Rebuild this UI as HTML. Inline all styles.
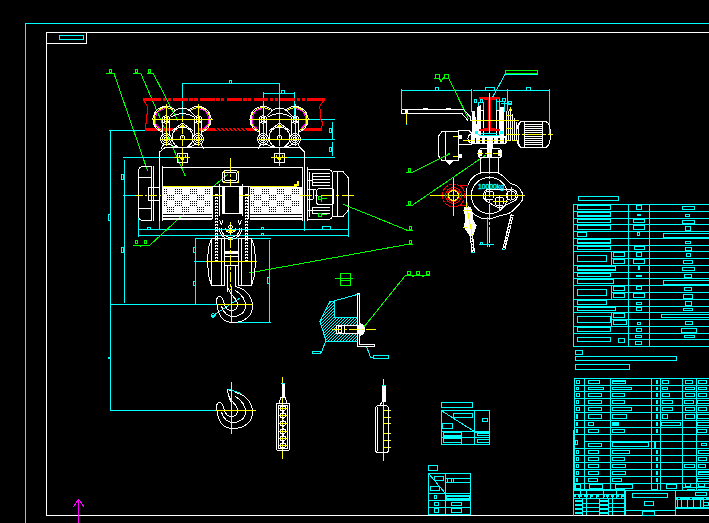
<!DOCTYPE html>
<html><head><meta charset="utf-8"><title>CAD drawing</title>
<style>
html,body{margin:0;padding:0;background:#000;overflow:hidden}
svg{display:block}
text{font-family:"Liberation Sans",sans-serif}
</style></head>
<body>
<svg width="709" height="523" viewBox="0 0 709 523" shape-rendering="crispEdges" fill="none" stroke-width="1">
<rect x="0" y="0" width="709" height="523" fill="#000" stroke="none"/>
<path d="M25.5 23L25.5 523" stroke="#00ffff"/>
<path d="M25 23.5L709 23.5" stroke="#00ffff"/>
<path d="M46.5 32L46.5 516" stroke="#ffffff"/>
<path d="M46 32.5L709 32.5" stroke="#ffffff"/>
<path d="M46 515.5L709 515.5" stroke="#ffffff"/>
<rect x="46.5" y="32.5" width="40" height="11" stroke="#ffffff" fill="none"/>
<rect x="59.5" y="35.5" width="24" height="4" stroke="#00ffff" fill="none"/>
<path d="M78.5 499L78.5 523" stroke="#ff00ff"/>
<path d="M78.5 499L73.5 507" stroke="#ff00ff"/>
<path d="M78.5 499L84 507" stroke="#ff00ff"/>
<rect x="109.5" y="69.5" width="2" height="3" stroke="#00ff00" fill="none"/>
<path d="M106 73.5L114 73.5" stroke="#00ff00"/>
<path d="M114 73.5L147.7 171.2" stroke="#00ff00"/>
<rect x="135.5" y="69.5" width="2" height="3" stroke="#00ff00" fill="none"/>
<path d="M133 73.5L141 73.5" stroke="#00ff00"/>
<path d="M140.8 73.5L185.4 176.4" stroke="#00ff00"/>
<rect x="148.5" y="69.5" width="2" height="3" stroke="#00ff00" fill="none"/>
<path d="M147 73.5L154 73.5" stroke="#00ff00"/>
<path d="M153.3 73.5L178 121" stroke="#00ff00"/>
<path d="M182.5 83L182.5 117" stroke="#00ffff"/>
<path d="M182 83.5L280 83.5" stroke="#00ffff"/>
<path d="M279.5 83L279.5 137" stroke="#00ffff"/>
<rect x="229.5" y="80.5" width="2" height="3" stroke="#00ffff" fill="none"/>
<path d="M263 93.5L295 93.5" stroke="#00ffff"/>
<path d="M263.5 92L263.5 120" stroke="#00ffff"/>
<path d="M294.5 92L294.5 120" stroke="#00ffff"/>
<rect x="281.5" y="90.5" width="3" height="3" stroke="#00ffff" fill="none"/>
<path d="M109 130.5L146 130.5" stroke="#00ffff"/>
<path d="M110.5 130L110.5 411" stroke="#00ffff"/>
<path d="M123 157.5L180 157.5" stroke="#00ffff"/>
<path d="M124.5 160L124.5 303" stroke="#00ffff"/>
<path d="M123 195.5L136 195.5" stroke="#00ffff"/>
<rect x="121.5" y="174.5" width="2" height="5" stroke="#00ffff" fill="none"/>
<rect x="108.5" y="214.5" width="2" height="6" stroke="#00ffff" fill="none"/>
<rect x="121.5" y="247.5" width="2" height="5" stroke="#00ffff" fill="none"/>
<path d="M286 157.5L335 157.5" stroke="#00ffff"/>
<path d="M332.5 142L332.5 156" stroke="#00ffff"/>
<rect x="329.5" y="147.5" width="2" height="4" stroke="#00ffff" fill="none"/>
<path d="M295 119.5L335 119.5" stroke="#00ffff"/>
<path d="M297 139.5L335 139.5" stroke="#00ffff"/>
<path d="M332.5 122L332.5 139" stroke="#00ffff"/>
<rect x="329.5" y="128.5" width="2" height="4" stroke="#00ffff" fill="none"/>
<path d="M138.5 211L138.5 237" stroke="#00ffff"/>
<path d="M138 229.5L349 229.5" stroke="#00ffff"/>
<path d="M138 235.5L349 235.5" stroke="#00ffff"/>
<path d="M348.5 195L348.5 237" stroke="#00ffff"/>
<path d="M159.5 220L159.5 230" stroke="#00ffff"/>
<path d="M304.5 220L304.5 231" stroke="#00ffff"/>
<rect x="147.5" y="227.5" width="3" height="2" stroke="#00ffff" fill="none"/>
<rect x="261.5" y="227.5" width="2" height="2" stroke="#00ffff" fill="none"/>
<rect x="322.5" y="226.5" width="8" height="3" stroke="#00ffff" fill="none"/>
<rect x="261.5" y="233.5" width="2" height="2" stroke="#00ffff" fill="none"/>
<path d="M195 238.5L271 238.5" stroke="#00ffff"/>
<path d="M195.5 238L195.5 304" stroke="#00ffff"/>
<path d="M269.5 240L269.5 322" stroke="#00ffff"/>
<path d="M194 261.5L207 261.5" stroke="#00ffff"/>
<rect x="193.5" y="247.5" width="2" height="5" stroke="#00ffff" fill="none"/>
<rect x="193.5" y="281.5" width="2" height="4" stroke="#00ffff" fill="none"/>
<rect x="267.5" y="277.5" width="2" height="6" stroke="#00ffff" fill="none"/>
<path d="M110 304.5L217 304.5" stroke="#00ffff"/>
<path d="M231 322.5L271 322.5" stroke="#00ffff"/>
<path d="M210.5 317.4L239.5 298.3" stroke="#00ffff"/>
<path d="M211 315L213 313L215 315.5L213 317.5Z" stroke="#00ffff" fill="none"/>
<rect x="108" y="357" width="2" height="2" fill="#00ffff" stroke="none"/>
<path d="M110 410.5L215 410.5" stroke="#00ffff"/>
<rect x="135.5" y="240.5" width="2" height="3" stroke="#00ff00" fill="none"/>
<rect x="144.5" y="240.5" width="2" height="3" stroke="#00ff00" fill="none"/>
<path d="M133 245.5L150 245.5" stroke="#00ff00"/>
<path d="M150 245L186 212" stroke="#00ff00"/>
<path d="M140 245L141 247" stroke="#00ff00"/>
<path d="M200 196L214 186" stroke="#00ff00"/>
<path d="M214 186L228 174" stroke="#00ff00"/>
<rect x="143" y="98" width="18.2" height="3" fill="#ff0000" stroke="none"/>
<rect x="162.6" y="98" width="3.5" height="3" fill="#ff0000" stroke="none"/>
<rect x="167.5" y="98" width="3.2" height="3" fill="#ff0000" stroke="none"/>
<rect x="173.1" y="98" width="14.9" height="3" fill="#ff0000" stroke="none"/>
<rect x="189.4" y="98" width="3.5" height="3" fill="#ff0000" stroke="none"/>
<rect x="194.3" y="98" width="3.2" height="3" fill="#ff0000" stroke="none"/>
<rect x="199.9" y="98" width="14.9" height="3" fill="#ff0000" stroke="none"/>
<rect x="216.2" y="98" width="3.5" height="3" fill="#ff0000" stroke="none"/>
<rect x="221.1" y="98" width="3.2" height="3" fill="#ff0000" stroke="none"/>
<rect x="226.7" y="98" width="14.9" height="3" fill="#ff0000" stroke="none"/>
<rect x="243" y="98" width="3.5" height="3" fill="#ff0000" stroke="none"/>
<rect x="247.9" y="98" width="3.2" height="3" fill="#ff0000" stroke="none"/>
<rect x="253.5" y="98" width="14.9" height="3" fill="#ff0000" stroke="none"/>
<rect x="269.8" y="98" width="3.5" height="3" fill="#ff0000" stroke="none"/>
<rect x="274.7" y="98" width="3.2" height="3" fill="#ff0000" stroke="none"/>
<rect x="280.3" y="98" width="14.9" height="3" fill="#ff0000" stroke="none"/>
<rect x="296.6" y="98" width="3.5" height="3" fill="#ff0000" stroke="none"/>
<rect x="301.5" y="98" width="3.2" height="3" fill="#ff0000" stroke="none"/>
<rect x="307.1" y="98" width="14.9" height="3" fill="#ff0000" stroke="none"/>
<rect x="323.4" y="98" width="1.6" height="3" fill="#ff0000" stroke="none"/>
<rect x="145" y="128" width="177.2" height="3" fill="#ff0000" stroke="none"/>
<path d="M215 128L219 131" stroke="#000"/>
<path d="M219 128L223 131" stroke="#000"/>
<path d="M223 128L227 131" stroke="#000"/>
<path d="M227 128L231 131" stroke="#000"/>
<path d="M231 128L235 131" stroke="#000"/>
<path d="M235 128L239 131" stroke="#000"/>
<path d="M239 128L243 131" stroke="#000"/>
<path d="M243 128L247 131" stroke="#000"/>
<rect x="307" y="98" width="18" height="3" fill="#ff0000" stroke="none"/>
<rect x="176.8" y="128" width="21.9" height="3" fill="#000" stroke="none"/>
<rect x="257" y="128" width="43.8" height="3" fill="#000" stroke="none"/>
<path d="M144 100.5L147.5 107L147.5 114L146.3 114.5L146.3 121L145.5 128" stroke="#ff0000" fill="none"/>
<path d="M324 100.5L320.6 104.6L319.5 108L320.6 110L320.6 119.8L322.5 122.3L322.5 124.8L321.5 128" stroke="#ff0000" fill="none"/>
<path d="M162.64 132.06A13 13 0 1 1 175.66 110.8" stroke="#ffffff" fill="none"/>
<path d="M161.58 130.44A11.8 11.8 0 1 1 173.26 110.2" stroke="#ffff00" fill="none"/>
<path d="M159.81 128.35A10.8 10.8 0 0 1 165.06 108.74" stroke="#ff00ff" fill="none"/>
<circle cx="166" cy="119.5" r="3.6" stroke="#ffffff"/>
<circle cx="166" cy="119.5" r="2" stroke="#ffffff"/>
<circle cx="166" cy="139" r="5.5" stroke="#ffffff"/>
<circle cx="166" cy="139" r="3.5" stroke="#ffffff"/>
<circle cx="166" cy="139" r="1.8" stroke="#ffffff"/>
<path d="M166.5 104L166.5 146" stroke="#ffff00"/>
<path d="M162.5 117L162.5 136" stroke="#ffffff"/>
<path d="M169.5 117L169.5 136" stroke="#ffffff"/>
<path d="M188.34 110.8A13 13 0 1 1 201.36 132.06" stroke="#ffffff" fill="none"/>
<path d="M190.74 110.2A11.8 11.8 0 1 1 202.42 130.44" stroke="#ffff00" fill="none"/>
<path d="M198.94 108.74A10.8 10.8 0 0 1 204.19 128.35" stroke="#ff00ff" fill="none"/>
<circle cx="198" cy="119.5" r="3.6" stroke="#ffffff"/>
<circle cx="198" cy="119.5" r="2" stroke="#ffffff"/>
<circle cx="198" cy="139" r="5.5" stroke="#ffffff"/>
<circle cx="198" cy="139" r="3.5" stroke="#ffffff"/>
<circle cx="198" cy="139" r="1.8" stroke="#ffffff"/>
<path d="M198.5 104L198.5 146" stroke="#ffff00"/>
<path d="M194.5 117L194.5 136" stroke="#ffffff"/>
<path d="M201.5 117L201.5 136" stroke="#ffffff"/>
<circle cx="182.5" cy="137.5" r="10.4" stroke="#ffffff"/>
<circle cx="182.5" cy="137.5" r="2" stroke="#ffffff"/>
<path d="M174 111Q182.5 105 191 111" stroke="#ffffff" fill="none"/>
<path d="M171 117Q182.5 110 194 117" stroke="#ffffff" fill="none"/>
<path d="M182.5 123L172 131" stroke="#ffffff"/>
<path d="M182.5 123L193 131" stroke="#ffffff"/>
<path d="M170 116L176 110" stroke="#ffffff"/>
<path d="M195 116L189 110" stroke="#ffffff"/>
<path d="M180 126.5L182.5 123.5L185 126.5Z" stroke="none" fill="#ffff00"/>
<path d="M152 119.5L213 119.5" stroke="#ffff00"/>
<path d="M160 139.5L204 139.5" stroke="#ffff00"/>
<path d="M182.5 116L182.5 156" stroke="#ffff00" stroke-dasharray="6 2 2 2"/>
<path d="M164 144L161 149" stroke="#ffffff"/>
<path d="M201 144L204 149" stroke="#ffffff"/>
<path d="M168 144L176 147" stroke="#ffffff"/>
<path d="M197 144L189 147" stroke="#ffffff"/>
<rect x="177.5" y="153.5" width="10" height="9" stroke="#ffffff" fill="none"/>
<path d="M179 155.5L182.5 160.5L186 155.5" stroke="#ffff00" fill="none"/>
<path d="M174 157.5L190 157.5" stroke="#ffff00"/>
<path d="M182.5 150L182.5 166" stroke="#ffff00"/>
<path d="M259.64 132.06A13 13 0 1 1 272.66 110.8" stroke="#ffffff" fill="none"/>
<path d="M258.58 130.44A11.8 11.8 0 1 1 270.26 110.2" stroke="#ffff00" fill="none"/>
<path d="M256.81 128.35A10.8 10.8 0 0 1 262.06 108.74" stroke="#ff00ff" fill="none"/>
<circle cx="263" cy="119.5" r="3.6" stroke="#ffffff"/>
<circle cx="263" cy="119.5" r="2" stroke="#ffffff"/>
<circle cx="263" cy="139" r="5.5" stroke="#ffffff"/>
<circle cx="263" cy="139" r="3.5" stroke="#ffffff"/>
<circle cx="263" cy="139" r="1.8" stroke="#ffffff"/>
<path d="M263.5 104L263.5 146" stroke="#ffff00"/>
<path d="M259.5 117L259.5 136" stroke="#ffffff"/>
<path d="M266.5 117L266.5 136" stroke="#ffffff"/>
<path d="M285.34 110.8A13 13 0 1 1 298.36 132.06" stroke="#ffffff" fill="none"/>
<path d="M287.74 110.2A11.8 11.8 0 1 1 299.42 130.44" stroke="#ffff00" fill="none"/>
<path d="M295.94 108.74A10.8 10.8 0 0 1 301.19 128.35" stroke="#ff00ff" fill="none"/>
<circle cx="295" cy="119.5" r="3.6" stroke="#ffffff"/>
<circle cx="295" cy="119.5" r="2" stroke="#ffffff"/>
<circle cx="295" cy="139" r="5.5" stroke="#ffffff"/>
<circle cx="295" cy="139" r="3.5" stroke="#ffffff"/>
<circle cx="295" cy="139" r="1.8" stroke="#ffffff"/>
<path d="M295.5 104L295.5 146" stroke="#ffff00"/>
<path d="M291.5 117L291.5 136" stroke="#ffffff"/>
<path d="M298.5 117L298.5 136" stroke="#ffffff"/>
<circle cx="279.5" cy="137.5" r="10.4" stroke="#ffffff"/>
<circle cx="279.5" cy="137.5" r="2" stroke="#ffffff"/>
<path d="M271 111Q279.5 105 288 111" stroke="#ffffff" fill="none"/>
<path d="M268 117Q279.5 110 291 117" stroke="#ffffff" fill="none"/>
<path d="M279.5 123L269 131" stroke="#ffffff"/>
<path d="M279.5 123L290 131" stroke="#ffffff"/>
<path d="M267 116L273 110" stroke="#ffffff"/>
<path d="M292 116L286 110" stroke="#ffffff"/>
<path d="M277 126.5L279.5 123.5L282 126.5Z" stroke="none" fill="#ffff00"/>
<path d="M249 119.5L310 119.5" stroke="#ffff00"/>
<path d="M257 139.5L301 139.5" stroke="#ffff00"/>
<path d="M279.5 116L279.5 156" stroke="#ffff00" stroke-dasharray="6 2 2 2"/>
<path d="M261 144L258 149" stroke="#ffffff"/>
<path d="M298 144L301 149" stroke="#ffffff"/>
<path d="M265 144L273 147" stroke="#ffffff"/>
<path d="M294 144L286 147" stroke="#ffffff"/>
<rect x="274.5" y="153.5" width="10" height="9" stroke="#ffffff" fill="none"/>
<path d="M276 155.5L279.5 160.5L283 155.5" stroke="#ffff00" fill="none"/>
<path d="M271 157.5L287 157.5" stroke="#ffff00"/>
<path d="M279.5 150L279.5 166" stroke="#ffff00"/>
<path d="M159.5 166L159.5 152L165 147.5L300 147.5L304.5 152L304.5 221" stroke="#ffffff" fill="none"/>
<path d="M162 167.5L303 167.5" stroke="#ffffff"/>
<path d="M151.5 166.5H143.5Q138.5 166.5 138.5 171.5V215.5Q138.5 220.5 143.5 220.5H151.5" stroke="#ffffff" fill="none"/>
<path d="M151.5 166L151.5 221" stroke="#ffffff"/>
<path d="M153.5 166L153.5 221" stroke="#ffffff"/>
<path d="M159.5 166L159.5 221" stroke="#ffffff"/>
<path d="M162.5 166L162.5 221" stroke="#ffffff"/>
<path d="M139 177.5L151 177.5" stroke="#ffffff"/>
<path d="M139 208.5L151 208.5" stroke="#ffffff"/>
<rect x="148.5" y="187.5" width="3" height="13" stroke="#ffffff" fill="none"/>
<path d="M151 187.5L159 187.5" stroke="#ffffff"/>
<path d="M151 200.5L159 200.5" stroke="#ffffff"/>
<path d="M302.5 167L302.5 221" stroke="#ffffff"/>
<path d="M307.5 167L307.5 221" stroke="#ffffff"/>
<rect x="163" y="215" width="139" height="1.5" fill="#ffffff" stroke="none"/>
<rect x="163" y="218" width="139" height="1.5" fill="#ffffff" stroke="none"/>
<rect x="163" y="187" width="49" height="27" fill="#ffffff" stroke="none"/>
<rect x="249.5" y="187" width="52" height="27" fill="#ffffff" stroke="none"/>
<path d="M164 189h1v1h-1zM164 191h1v1h-1zM164 193h1v1h-1zM166 189h1v1h-1zM166 191h1v1h-1zM166 193h1v1h-1zM175 189h1v1h-1zM175 191h1v1h-1zM175 193h1v1h-1zM177 189h1v1h-1zM177 191h1v1h-1zM177 193h1v1h-1zM179 189h1v1h-1zM179 191h1v1h-1zM179 193h1v1h-1zM181 189h1v1h-1zM181 191h1v1h-1zM181 193h1v1h-1zM190 189h1v1h-1zM190 191h1v1h-1zM190 193h1v1h-1zM192 189h1v1h-1zM192 191h1v1h-1zM192 193h1v1h-1zM194 189h1v1h-1zM194 191h1v1h-1zM194 193h1v1h-1zM196 189h1v1h-1zM196 191h1v1h-1zM196 193h1v1h-1zM205 189h1v1h-1zM205 191h1v1h-1zM205 193h1v1h-1zM207 189h1v1h-1zM207 191h1v1h-1zM207 193h1v1h-1zM209 189h1v1h-1zM209 191h1v1h-1zM209 193h1v1h-1zM167 195h1v1h-1zM167 197h1v1h-1zM167 199h1v1h-1zM169 195h1v1h-1zM169 197h1v1h-1zM169 199h1v1h-1zM171 195h1v1h-1zM171 197h1v1h-1zM171 199h1v1h-1zM173 195h1v1h-1zM173 197h1v1h-1zM173 199h1v1h-1zM182 195h1v1h-1zM182 197h1v1h-1zM182 199h1v1h-1zM184 195h1v1h-1zM184 197h1v1h-1zM184 199h1v1h-1zM186 195h1v1h-1zM186 197h1v1h-1zM186 199h1v1h-1zM188 195h1v1h-1zM188 197h1v1h-1zM188 199h1v1h-1zM197 195h1v1h-1zM197 197h1v1h-1zM197 199h1v1h-1zM199 195h1v1h-1zM199 197h1v1h-1zM199 199h1v1h-1zM201 195h1v1h-1zM201 197h1v1h-1zM201 199h1v1h-1zM203 195h1v1h-1zM203 197h1v1h-1zM203 199h1v1h-1zM164 201h1v1h-1zM164 203h1v1h-1zM164 205h1v1h-1zM166 201h1v1h-1zM166 203h1v1h-1zM166 205h1v1h-1zM175 201h1v1h-1zM175 203h1v1h-1zM175 205h1v1h-1zM177 201h1v1h-1zM177 203h1v1h-1zM177 205h1v1h-1zM179 201h1v1h-1zM179 203h1v1h-1zM179 205h1v1h-1zM181 201h1v1h-1zM181 203h1v1h-1zM181 205h1v1h-1zM190 201h1v1h-1zM190 203h1v1h-1zM190 205h1v1h-1zM192 201h1v1h-1zM192 203h1v1h-1zM192 205h1v1h-1zM194 201h1v1h-1zM194 203h1v1h-1zM194 205h1v1h-1zM196 201h1v1h-1zM196 203h1v1h-1zM196 205h1v1h-1zM205 201h1v1h-1zM205 203h1v1h-1zM205 205h1v1h-1zM207 201h1v1h-1zM207 203h1v1h-1zM207 205h1v1h-1zM209 201h1v1h-1zM209 203h1v1h-1zM209 205h1v1h-1zM167 207h1v1h-1zM167 209h1v1h-1zM167 211h1v1h-1zM169 207h1v1h-1zM169 209h1v1h-1zM169 211h1v1h-1zM171 207h1v1h-1zM171 209h1v1h-1zM171 211h1v1h-1zM173 207h1v1h-1zM173 209h1v1h-1zM173 211h1v1h-1zM182 207h1v1h-1zM182 209h1v1h-1zM182 211h1v1h-1zM184 207h1v1h-1zM184 209h1v1h-1zM184 211h1v1h-1zM186 207h1v1h-1zM186 209h1v1h-1zM186 211h1v1h-1zM188 207h1v1h-1zM188 209h1v1h-1zM188 211h1v1h-1zM197 207h1v1h-1zM197 209h1v1h-1zM197 211h1v1h-1zM199 207h1v1h-1zM199 209h1v1h-1zM199 211h1v1h-1zM201 207h1v1h-1zM201 209h1v1h-1zM201 211h1v1h-1zM203 207h1v1h-1zM203 209h1v1h-1zM203 211h1v1h-1z" fill="#000" stroke="none"/>
<path d="M251 189h1v1h-1zM251 191h1v1h-1zM251 193h1v1h-1zM253 189h1v1h-1zM253 191h1v1h-1zM253 193h1v1h-1zM262 189h1v1h-1zM262 191h1v1h-1zM262 193h1v1h-1zM264 189h1v1h-1zM264 191h1v1h-1zM264 193h1v1h-1zM266 189h1v1h-1zM266 191h1v1h-1zM266 193h1v1h-1zM268 189h1v1h-1zM268 191h1v1h-1zM268 193h1v1h-1zM277 189h1v1h-1zM277 191h1v1h-1zM277 193h1v1h-1zM279 189h1v1h-1zM279 191h1v1h-1zM279 193h1v1h-1zM281 189h1v1h-1zM281 191h1v1h-1zM281 193h1v1h-1zM283 189h1v1h-1zM283 191h1v1h-1zM283 193h1v1h-1zM292 189h1v1h-1zM292 191h1v1h-1zM292 193h1v1h-1zM294 189h1v1h-1zM294 191h1v1h-1zM294 193h1v1h-1zM296 189h1v1h-1zM296 191h1v1h-1zM296 193h1v1h-1zM298 189h1v1h-1zM298 191h1v1h-1zM298 193h1v1h-1zM254 195h1v1h-1zM254 197h1v1h-1zM254 199h1v1h-1zM256 195h1v1h-1zM256 197h1v1h-1zM256 199h1v1h-1zM258 195h1v1h-1zM258 197h1v1h-1zM258 199h1v1h-1zM260 195h1v1h-1zM260 197h1v1h-1zM260 199h1v1h-1zM269 195h1v1h-1zM269 197h1v1h-1zM269 199h1v1h-1zM271 195h1v1h-1zM271 197h1v1h-1zM271 199h1v1h-1zM273 195h1v1h-1zM273 197h1v1h-1zM273 199h1v1h-1zM275 195h1v1h-1zM275 197h1v1h-1zM275 199h1v1h-1zM284 195h1v1h-1zM284 197h1v1h-1zM284 199h1v1h-1zM286 195h1v1h-1zM286 197h1v1h-1zM286 199h1v1h-1zM288 195h1v1h-1zM288 197h1v1h-1zM288 199h1v1h-1zM290 195h1v1h-1zM290 197h1v1h-1zM290 199h1v1h-1zM251 201h1v1h-1zM251 203h1v1h-1zM251 205h1v1h-1zM253 201h1v1h-1zM253 203h1v1h-1zM253 205h1v1h-1zM262 201h1v1h-1zM262 203h1v1h-1zM262 205h1v1h-1zM264 201h1v1h-1zM264 203h1v1h-1zM264 205h1v1h-1zM266 201h1v1h-1zM266 203h1v1h-1zM266 205h1v1h-1zM268 201h1v1h-1zM268 203h1v1h-1zM268 205h1v1h-1zM277 201h1v1h-1zM277 203h1v1h-1zM277 205h1v1h-1zM279 201h1v1h-1zM279 203h1v1h-1zM279 205h1v1h-1zM281 201h1v1h-1zM281 203h1v1h-1zM281 205h1v1h-1zM283 201h1v1h-1zM283 203h1v1h-1zM283 205h1v1h-1zM292 201h1v1h-1zM292 203h1v1h-1zM292 205h1v1h-1zM294 201h1v1h-1zM294 203h1v1h-1zM294 205h1v1h-1zM296 201h1v1h-1zM296 203h1v1h-1zM296 205h1v1h-1zM298 201h1v1h-1zM298 203h1v1h-1zM298 205h1v1h-1zM254 207h1v1h-1zM254 209h1v1h-1zM254 211h1v1h-1zM256 207h1v1h-1zM256 209h1v1h-1zM256 211h1v1h-1zM258 207h1v1h-1zM258 209h1v1h-1zM258 211h1v1h-1zM260 207h1v1h-1zM260 209h1v1h-1zM260 211h1v1h-1zM269 207h1v1h-1zM269 209h1v1h-1zM269 211h1v1h-1zM271 207h1v1h-1zM271 209h1v1h-1zM271 211h1v1h-1zM273 207h1v1h-1zM273 209h1v1h-1zM273 211h1v1h-1zM275 207h1v1h-1zM275 209h1v1h-1zM275 211h1v1h-1zM284 207h1v1h-1zM284 209h1v1h-1zM284 211h1v1h-1zM286 207h1v1h-1zM286 209h1v1h-1zM286 211h1v1h-1zM288 207h1v1h-1zM288 209h1v1h-1zM288 211h1v1h-1zM290 207h1v1h-1zM290 209h1v1h-1zM290 211h1v1h-1z" fill="#000" stroke="none"/>
<path d="M135 195.5L163 195.5" stroke="#ffff00" stroke-dasharray="8 2 2 2"/>
<path d="M213 195.5L248 195.5" stroke="#ffff00"/>
<path d="M300 195.5L354 195.5" stroke="#ffff00" stroke-dasharray="12 3 3 3"/>
<path d="M163 186.5L212 186.5" stroke="#ffff00"/>
<path d="M249 186.5L296 186.5" stroke="#ffff00"/>
<rect x="294" y="184" width="2.5" height="3" fill="#ffff00" stroke="none"/>
<rect x="297" y="180.5" width="1.7" height="5.5" fill="#ffff00" stroke="none"/>
<path d="M307.5 169.5H327.5Q332.5 169.5 332.5 174.5V214.5Q332.5 219.5 327.5 219.5H307.5" stroke="#ffffff" fill="none"/>
<path d="M332.5 171.5L343 171.5L348.5 178L348.5 210L343 216.5L332.5 216.5" stroke="#ffffff" fill="none"/>
<path d="M337.5 171L337.5 217" stroke="#ffffff"/>
<path d="M309.5 172L309.5 217" stroke="#ffffff"/>
<path d="M312 173.5L330 173.5" stroke="#ffffff"/>
<path d="M312 176.5L330 176.5" stroke="#ffffff"/>
<path d="M312 179.5L330 179.5" stroke="#ffffff"/>
<path d="M312 182.5L330 182.5" stroke="#ffffff"/>
<path d="M312 185.5L330 185.5" stroke="#ffffff"/>
<path d="M312 207.5L330 207.5" stroke="#ffffff"/>
<path d="M312 210.5L330 210.5" stroke="#ffffff"/>
<path d="M312 213.5L330 213.5" stroke="#ffffff"/>
<path d="M312.5 173L312.5 186" stroke="#ffffff"/>
<path d="M312.5 207L312.5 214" stroke="#ffffff"/>
<path d="M308 180.5L312 180.5" stroke="#ffffff"/>
<path d="M308 210.5L312 210.5" stroke="#ffffff"/>
<path d="M319.5 188.5H331.5Q333.5 188.5 333.5 190.5V202.5Q333.5 204.5 331.5 204.5H319.5Q316.5 204.5 316.5 201.5V191.5Q316.5 188.5 319.5 188.5Z" stroke="#ffffff" fill="none"/>
<path d="M307 189.5L316 189.5" stroke="#ffffff"/>
<path d="M307 199.5L313 199.5" stroke="#ffffff"/>
<path d="M313.5 189L313.5 199" stroke="#ffffff"/>
<rect x="318.5" y="196.5" width="3" height="3" stroke="#00ff00" fill="none"/>
<path d="M321 198.5L327 198.5" stroke="#00ff00"/>
<path d="M321.5 198L321.5 202" stroke="#00ff00"/>
<rect x="318.5" y="213.5" width="3" height="3" stroke="#00ff00" fill="none"/>
<path d="M321 214.5L327 214.5" stroke="#00ff00"/>
<rect x="408.5" y="168.5" width="2" height="3" stroke="#00ff00" fill="none"/>
<path d="M406 172.5L413 172.5" stroke="#00ff00"/>
<rect x="408.5" y="201.5" width="2" height="3" stroke="#00ff00" fill="none"/>
<path d="M406 205.5L413 205.5" stroke="#00ff00"/>
<rect x="409.5" y="226.5" width="2" height="3" stroke="#00ff00" fill="none"/>
<path d="M406 230.5L413 230.5" stroke="#00ff00"/>
<path d="M343.2 204.3L407.5 230.3" stroke="#00ff00"/>
<rect x="409.5" y="240.5" width="2" height="3" stroke="#00ff00" fill="none"/>
<path d="M406 244.5L413 244.5" stroke="#00ff00"/>
<path d="M248.7 273L407 244.5" stroke="#00ff00"/>
<path d="M225.5 170.5H235.5Q238.5 170.5 238.5 173.5V179.5Q238.5 182.5 235.5 182.5H225.5Q222.5 182.5 222.5 179.5V173.5Q222.5 170.5 225.5 170.5Z" stroke="#ffffff" fill="none"/>
<path d="M226.5 172.5H234.5Q236.5 172.5 236.5 174.5V178.5Q236.5 180.5 234.5 180.5H226.5Q224.5 180.5 224.5 178.5V174.5Q224.5 172.5 226.5 172.5Z" stroke="#ffffff" fill="none"/>
<rect x="223" y="171" width="2" height="2" fill="#ffff00" stroke="none"/>
<rect x="237" y="171" width="2" height="2" fill="#ffff00" stroke="none"/>
<rect x="223" y="181" width="2" height="2" fill="#ffff00" stroke="none"/>
<rect x="237" y="181" width="2" height="2" fill="#ffff00" stroke="none"/>
<path d="M230.5 158L230.5 240" stroke="#ffff00" stroke-dasharray="14 2 3 2"/>
<rect x="212" y="186" width="38" height="36" fill="#000" stroke="none"/>
<path d="M212.5 186L212.5 219" stroke="#ffffff"/>
<path d="M248.5 186L248.5 219" stroke="#ffffff"/>
<path d="M219.5 184L219.5 216" stroke="#ffffff"/>
<path d="M242.5 184L242.5 216" stroke="#ffffff"/>
<rect x="222" y="187" width="3" height="26" fill="#ffffff" stroke="none"/>
<rect x="239" y="187" width="3" height="26" fill="#ffffff" stroke="none"/>
<path d="M222 213.5L242 213.5" stroke="#ffffff"/>
<path d="M212 186.5L250 186.5" stroke="#ffffff"/>
<path d="M212 195.5L222 195.5" stroke="#ffff00"/>
<path d="M239 195.5L250 195.5" stroke="#ffff00"/>
<path d="M215.5 194L215.5 262" stroke="#ffffff" stroke-dasharray="2 1"/>
<path d="M217.5 194L217.5 262" stroke="#ffffff" stroke-dasharray="2 1"/>
<path d="M245.5 194L245.5 262" stroke="#ffffff" stroke-dasharray="2 1"/>
<path d="M247.5 194L247.5 262" stroke="#ffffff" stroke-dasharray="2 1"/>
<path d="M216.5 194L216.5 262" stroke="#ffffff" stroke-dasharray="1 2"/>
<path d="M246.5 194L246.5 262" stroke="#ffffff" stroke-dasharray="1 2"/>
<path d="M219.5 220L221.5 225" stroke="#ffffff"/>
<path d="M223 220L221.5 225" stroke="#ffffff"/>
<path d="M241.5 220L239.5 225" stroke="#ffffff"/>
<path d="M238 220L239.5 225" stroke="#ffffff"/>
<path d="M241.8 228A11.3 11.3 0 0 1 219.2 228" stroke="#ffffff" fill="none"/>
<path d="M240 228A9.5 9.5 0 0 1 221 228" stroke="#ffffff" fill="none"/>
<path d="M235.5 228A5 5 0 0 1 225.5 228" stroke="#ffffff" fill="none"/>
<circle cx="230.5" cy="227" r="1.8" stroke="#ffffff"/>
<path d="M226 230.5L236 230.5" stroke="#ffff00"/>
<path d="M229 233L230.5 230L232 233" stroke="#ffff00" fill="none"/>
<path d="M211.5 238.5L224.5 238.5L224.5 285.5L211.5 285.5L209 277L208 268L207.5 261L208 254L209 246Z" stroke="#ffffff" fill="none"/>
<path d="M251.5 238.5L238.5 238.5L238.5 285.5L251.5 285.5L254 277L255 268L255.5 261L255 254L254 246Z" stroke="#ffffff" fill="none"/>
<path d="M211.5 239L211.5 285" stroke="#ffffff"/>
<path d="M221.5 239L221.5 285" stroke="#ffffff"/>
<path d="M241.5 239L241.5 285" stroke="#ffffff"/>
<path d="M251.5 239L251.5 285" stroke="#ffffff"/>
<path d="M224.5 240L224.5 266" stroke="#ffffff"/>
<path d="M238.5 240L238.5 266" stroke="#ffffff"/>
<path d="M224 256.5L239 256.5" stroke="#ffffff"/>
<path d="M224 265.5L239 265.5" stroke="#ffffff"/>
<rect x="225" y="251" width="13" height="3" fill="#ffffff" stroke="none"/>
<path d="M206 261.5L257 261.5" stroke="#ffff00"/>
<path d="M230.5 238L230.5 290" stroke="#ffff00" stroke-dasharray="10 2 3 2"/>
<path d="M227.5 266L227.5 292" stroke="#ffffff"/>
<path d="M235.5 266L235.5 286" stroke="#ffffff"/>
<path d="M235.5 286.5C245.5 288.5 252.5 296.5 252.5 306.5C252.5 316.5 243.5 322.5 233.5 322.5C223.5 322.5 218.5 316.5 217.5 306.5C215.5 300.5 216.5 296.5 219.5 296.5C222.5 296.5 223.5 300.5 224.5 304.5" stroke="#ffffff" fill="none"/>
<path d="M235.5 290.5C241.5 294.5 245.5 299.5 245.5 305.5C245.5 312.5 239.5 316.5 233.5 316.5C227.5 316.5 223.5 312.5 221.5 306.5" stroke="#ffffff" fill="none"/>
<path d="M228.5 288.5C229.5 294.5 237.5 298.5 237.5 304.5C237.5 308.5 234.5 310.5 231.5 310.5C227.5 310.5 225.5 307.5 224.5 304.5" stroke="#ffffff" fill="none"/>
<path d="M217 304.5L253 304.5" stroke="#ffff00"/>
<path d="M231.5 286L231.5 322" stroke="#ffff00"/>
<path d="M235.5 392.5C245.5 394.5 252.5 402.5 252.5 412.5C252.5 422.5 243.5 428.5 233.5 428.5C223.5 428.5 218.5 422.5 217.5 412.5C215.5 406.5 216.5 402.5 219.5 402.5C222.5 402.5 223.5 406.5 224.5 410.5" stroke="#ffffff" fill="none"/>
<path d="M235.5 396.5C241.5 400.5 245.5 405.5 245.5 411.5C245.5 418.5 239.5 422.5 233.5 422.5C227.5 422.5 223.5 418.5 221.5 412.5" stroke="#ffffff" fill="none"/>
<path d="M228.5 394.5C229.5 400.5 237.5 404.5 237.5 410.5C237.5 414.5 234.5 416.5 231.5 416.5C227.5 416.5 225.5 413.5 224.5 410.5" stroke="#ffffff" fill="none"/>
<path d="M227.5 389.5C228 396 230 400 232 404" stroke="#ffffff" fill="none"/>
<path d="M227.5 389.5L231 391" stroke="#ffffff"/>
<path d="M228 389L241 393.5" stroke="#00ffff"/>
<path d="M215 410.5L256 410.5" stroke="#ffff00"/>
<path d="M231.5 382L231.5 434" stroke="#ffff00"/>
<path d="M282.5 377L282.5 459" stroke="#ffff00"/>
<rect x="281.5" y="384" width="3" height="13" fill="#ffffff" stroke="none"/>
<path d="M281 383.5L285 383.5" stroke="#00ffff"/>
<path d="M279 403.5L281 397L285 397L287 403.5" stroke="#ffffff" fill="none"/>
<path d="M276.5 403.5H289.5V448.5Q289.5 450.5 287.5 450.5H278.5Q276.5 450.5 276.5 448.5Z" stroke="#ffffff" fill="none"/>
<path d="M278.5 405.5H287.5V447.5Q287.5 448.5 286.5 448.5H279.5Q278.5 448.5 278.5 447.5Z" stroke="#ffffff" fill="none"/>
<circle cx="283" cy="408.5" r="2.6" stroke="#ffffff"/>
<path d="M279 408.5L288 408.5" stroke="#ffff00"/>
<circle cx="283" cy="415.5" r="2.6" stroke="#ffffff"/>
<path d="M279 415.5L288 415.5" stroke="#ffff00"/>
<circle cx="283" cy="423.5" r="2.6" stroke="#ffffff"/>
<path d="M279 423.5L288 423.5" stroke="#ffff00"/>
<circle cx="283" cy="431.5" r="2.6" stroke="#ffffff"/>
<path d="M279 431.5L288 431.5" stroke="#ffff00"/>
<circle cx="283" cy="438.5" r="2.6" stroke="#ffffff"/>
<path d="M279 438.5L288 438.5" stroke="#ffff00"/>
<circle cx="283" cy="445.5" r="2.6" stroke="#ffffff"/>
<path d="M279 445.5L288 445.5" stroke="#ffff00"/>
<path d="M383.5 379L383.5 461" stroke="#ffff00"/>
<rect x="382" y="386" width="4" height="16" fill="#ffffff" stroke="none"/>
<path d="M382 385.5L386 385.5" stroke="#00ffff"/>
<path d="M385.5 405.5H378.5Q375.5 405.5 375.5 408.5V449.5Q375.5 452.5 378.5 452.5H385.5Q388.5 452.5 388.5 449.5V408.5Q388.5 405.5 385.5 405.5Z" stroke="#ffffff" fill="none"/>
<path d="M377.5 407L377.5 451" stroke="#ffffff"/>
<path d="M380 405L382 402" stroke="#ffffff" fill="none"/>
<path d="M383 410.5L391 410.5" stroke="#ffff00"/>
<path d="M388.5 408L388.5 413" stroke="#ffffff" stroke-dasharray="1 1"/>
<path d="M383 417.5L391 417.5" stroke="#ffff00"/>
<path d="M388.5 415L388.5 420" stroke="#ffffff" stroke-dasharray="1 1"/>
<path d="M383 423.5L391 423.5" stroke="#ffff00"/>
<path d="M388.5 421L388.5 426" stroke="#ffffff" stroke-dasharray="1 1"/>
<path d="M383 433.5L391 433.5" stroke="#ffff00"/>
<path d="M388.5 431L388.5 436" stroke="#ffffff" stroke-dasharray="1 1"/>
<path d="M383 440.5L391 440.5" stroke="#ffff00"/>
<path d="M388.5 438L388.5 443" stroke="#ffffff" stroke-dasharray="1 1"/>
<path d="M383 447.5L391 447.5" stroke="#ffff00"/>
<path d="M388.5 445L388.5 450" stroke="#ffffff" stroke-dasharray="1 1"/>
<path d="M401 90.5L472 90.5" stroke="#00ffff"/>
<path d="M473 90.5L550 90.5" stroke="#00ffff"/>
<path d="M401.5 89L401.5 110" stroke="#00ffff"/>
<path d="M471.5 89L471.5 112" stroke="#00ffff"/>
<path d="M507.5 89L507.5 111" stroke="#00ffff"/>
<path d="M549.5 89L549.5 134" stroke="#00ffff"/>
<rect x="435.5" y="87.5" width="3" height="3" stroke="#00ffff" fill="none"/>
<rect x="485.5" y="87.5" width="9" height="3" stroke="#00ffff" fill="none"/>
<rect x="526.5" y="87.5" width="4" height="3" stroke="#00ffff" fill="none"/>
<rect x="505.5" y="70.5" width="32" height="3" stroke="#00ff00" fill="none"/>
<path d="M505 74.5L538 74.5" stroke="#00ffff"/>
<path d="M505 74.5L492.8 96.8" stroke="#00ffff"/>
<rect x="435.5" y="74.5" width="4" height="4" stroke="#00ff00" fill="none"/>
<rect x="444.5" y="74.5" width="4" height="4" stroke="#00ff00" fill="none"/>
<path d="M434 78.5L440 78.5" stroke="#00ff00"/>
<path d="M439.5 78.5L441 81.5L444.5 76.5" stroke="#00ff00" fill="none"/>
<path d="M449 79L468.5 118.7" stroke="#00ff00"/>
<path d="M401.5 109.5L463.5 109.5L470.5 117L470.5 121" stroke="#ffffff" fill="none"/>
<path d="M401.5 109.5L401.5 113.5L462 113.5L468 120.5" stroke="#ffffff" fill="none"/>
<path d="M423 108.5L428 108.5" stroke="#ffffff"/>
<path d="M446 108.5L451 108.5" stroke="#ffffff"/>
<path d="M406.5 111L406.5 125" stroke="#ffff00"/>
<rect x="405" y="110" width="3" height="3" fill="#ffffff" stroke="none"/>
<path d="M406 124.5L407 124.5" stroke="#00ffff"/>
<rect x="474.5" y="99.5" width="2" height="3" stroke="#00ffff" fill="none"/>
<rect x="480.5" y="99.5" width="2" height="3" stroke="#00ffff" fill="none"/>
<rect x="496.5" y="98.5" width="3" height="3" stroke="#00ffff" fill="none"/>
<rect x="502.5" y="98.5" width="3" height="3" stroke="#00ffff" fill="none"/>
<rect x="508.5" y="101.5" width="3" height="3" stroke="#00ffff" fill="none"/>
<path d="M478.5 102L478.5 111" stroke="#00ffff"/>
<path d="M483.5 102L483.5 111" stroke="#00ffff"/>
<path d="M496.5 101L496.5 111" stroke="#00ffff"/>
<path d="M499.5 101L499.5 111" stroke="#00ffff"/>
<path d="M504.5 101L504.5 112" stroke="#00ffff"/>
<path d="M478 102.5L484 102.5" stroke="#00ffff"/>
<path d="M496 101.5L505 101.5" stroke="#00ffff"/>
<path d="M501 103.5L512 103.5" stroke="#00ffff"/>
<path d="M477 136L477 108L480 106L480 136Z" stroke="#ffffff" fill="#ffffff"/>
<path d="M500.5 136L500.5 107L503 107L503 136Z" stroke="#ffffff" fill="#ffffff"/>
<rect x="480.5" y="110.5" width="3" height="25" stroke="#ffffff" fill="none"/>
<rect x="496.5" y="110.5" width="3" height="25" stroke="#ffffff" fill="none"/>
<rect x="472" y="111" width="2.5" height="30" fill="#ffffff" stroke="none"/>
<path d="M475.5 117L475.5 136" stroke="#ffffff"/>
<rect x="474" y="124" width="3" height="12" fill="#ffffff" stroke="none"/>
<rect x="507.5" y="111" width="1.5" height="30" fill="#ffffff" stroke="none"/>
<rect x="510" y="111" width="1" height="30" fill="#ffffff" stroke="none"/>
<rect x="512" y="114" width="1" height="27" fill="#ffffff" stroke="none"/>
<path d="M506.5 111L506.5 143" stroke="#ffffff"/>
<path d="M514.5 118L514.5 140" stroke="#ffffff"/>
<path d="M516.5 122L516.5 140" stroke="#ffffff"/>
<path d="M509 111L510.5 108L512 111" stroke="#ffff00" fill="#ffff00"/>
<path d="M506 115.5L512 115.5" stroke="#ffff00"/>
<path d="M506 128.5L513 128.5" stroke="#ffff00"/>
<rect x="479" y="97" width="21" height="2" fill="#ff0000" stroke="none"/>
<path d="M484 99.5L496 99.5" stroke="#ff0000"/>
<rect x="479" y="128.6" width="21" height="2.4" fill="#ff0000" stroke="none"/>
<path d="M483 128.5L495 128.5" stroke="#ff0000"/>
<rect x="488" y="99" width="3" height="30" fill="#ff0000" stroke="none"/>
<path d="M489.5 93L489.5 134" stroke="#ffff00"/>
<path d="M475.5 131.5L479 135L499 135L502 131.5" stroke="#00ffff" fill="none"/>
<path d="M481 133.5L497 133.5" stroke="#00ffff"/>
<rect x="475" y="131" width="3" height="3" fill="#00ffff" stroke="none"/>
<rect x="500" y="131" width="3" height="3" fill="#00ffff" stroke="none"/>
<rect x="471" y="136" width="35" height="8" fill="#ffffff" stroke="none"/>
<rect x="474.5" y="137.5" width="1.5" height="5" fill="#000" stroke="none"/>
<rect x="480" y="137.5" width="1.5" height="5" fill="#000" stroke="none"/>
<rect x="485" y="137.5" width="1.5" height="5" fill="#000" stroke="none"/>
<rect x="492.5" y="137.5" width="1.5" height="5" fill="#000" stroke="none"/>
<rect x="498" y="137.5" width="1.5" height="5" fill="#000" stroke="none"/>
<rect x="504" y="137.5" width="1" height="5" fill="#000" stroke="none"/>
<path d="M471 120.5L519 120.5" stroke="#ffff00"/>
<path d="M463 140.5L517 140.5" stroke="#ffff00" stroke-dasharray="5 2"/>
<path d="M524.5 121.5H542.5V147.5H524.5Z" stroke="#ffffff" fill="none"/>
<path d="M524 124.5L542 124.5" stroke="#ffffff"/>
<path d="M524 126.5L542 126.5" stroke="#ffffff"/>
<path d="M524 128.5L542 128.5" stroke="#ffffff"/>
<path d="M524 130.5L542 130.5" stroke="#ffffff"/>
<path d="M524 132.5L542 132.5" stroke="#ffffff"/>
<path d="M524 134.5L542 134.5" stroke="#ffffff"/>
<path d="M524 136.5L542 136.5" stroke="#ffffff"/>
<path d="M524 138.5L542 138.5" stroke="#ffffff"/>
<path d="M524 140.5L542 140.5" stroke="#ffffff"/>
<path d="M524 142.5L542 142.5" stroke="#ffffff"/>
<path d="M524 144.5L542 144.5" stroke="#ffffff"/>
<path d="M524.5 121.5H521Q516.5 124 516.5 134.5Q516.5 145 521 147.5H524.5" stroke="#ffffff" fill="none"/>
<path d="M542.5 121.5H546Q550.5 124 550.5 134.5Q550.5 145 546 147.5H542.5" stroke="#ffffff" fill="none"/>
<path d="M519.5 123C517.5 128 517.5 141 519.5 146" stroke="#ffffff" fill="none"/>
<path d="M506 134.5L553 134.5" stroke="#ffff00" stroke-dasharray="14 2 3 2"/>
<path d="M457.5 130.5L469 130.5L471.5 133L471.5 144.5L457.5 144.5" stroke="#ffffff" fill="none"/>
<path d="M470.5 134C467 136 467 141 470.5 143" stroke="#ffffff" fill="none"/>
<rect x="458" y="135" width="4" height="4" fill="#ffffff" stroke="none"/>
<path d="M453 136.5L458 136.5" stroke="#ffff00"/>
<path d="M463 140.5L470 140.5" stroke="#ffff00"/>
<path d="M458.5 131.5L442 131.5L438.5 136L438.5 156L442 160.5L458.5 160.5L458.5 131.5" stroke="#ffffff" fill="none"/>
<path d="M445.5 132L445.5 160" stroke="#ffffff"/>
<path d="M446 160.5L449.5 164L453 160.5" stroke="#ffffff" fill="none"/>
<rect x="448" y="161" width="4" height="2" fill="#ffffff" stroke="none"/>
<rect x="458" y="154" width="4" height="4" fill="#ffffff" stroke="none"/>
<path d="M453 156.5L458 156.5" stroke="#ffff00"/>
<rect x="408.5" y="168.5" width="2" height="3" stroke="#00ff00" fill="none"/>
<path d="M412.7 172L449.5 154" stroke="#00ff00"/>
<rect x="448" y="153" width="2" height="2" fill="#00ff00" stroke="none"/>
<path d="M412.7 205L485.5 155.3" stroke="#00ff00"/>
<path d="M487.5 143L487.5 149" stroke="#ffffff"/>
<path d="M492.5 143L492.5 149" stroke="#ffffff"/>
<rect x="488" y="143" width="4" height="6" fill="#ffffff" stroke="none"/>
<path d="M481.5 148.5H498.5Q501.5 148.5 501.5 151.5V154.5Q501.5 157.5 498.5 157.5H481.5Q478.5 157.5 478.5 154.5V151.5Q478.5 148.5 481.5 148.5Z" stroke="#ffffff" fill="none"/>
<rect x="479" y="150" width="3" height="6" fill="#ffffff" stroke="none"/>
<rect x="498" y="150" width="3" height="6" fill="#ffffff" stroke="none"/>
<rect x="487" y="148" width="5" height="10" fill="#ffffff" stroke="none"/>
<path d="M489.5 148L489.5 158" stroke="#ffff00"/>
<path d="M477 153.5L502 153.5" stroke="#ffff00" stroke-dasharray="6 2"/>
<path d="M480.5 157L480.5 173" stroke="#ffffff"/>
<path d="M498.5 157L498.5 173" stroke="#ffffff"/>
<path d="M480 172.5L498 172.5" stroke="#ffffff"/>
<circle cx="489.5" cy="195.5" r="18.2" stroke="#ffffff"/>
<path d="M480.5 173C479.38 173.58 475.78 174.77 473.8 176.5C471.82 178.23 469.85 180.73 468.6 183.4C467.35 186.07 466.58 189.25 466.3 192.5C466.02 195.75 466.03 199.65 466.9 202.9C467.77 206.15 469.2 209.52 471.5 212C473.8 214.48 477.65 216.65 480.7 217.8C483.75 218.95 486.55 219.25 489.8 218.9C493.05 218.55 496.95 216.65 500.2 215.7C503.45 214.75 506.43 214.77 509.3 213.2C512.17 211.63 515.2 208.6 517.4 206.3C519.6 204 521.73 201.7 522.5 199.4C523.27 197.1 522.85 194.7 522 192.5C521.15 190.3 519.32 187.72 517.4 186.2C515.48 184.68 512.8 185.02 510.5 183.4C508.2 181.78 505.68 178.23 503.6 176.5C501.52 174.77 498.93 173.58 498 173" stroke="#ffffff" fill="none"/>
<circle cx="489.5" cy="195.5" r="4.6" stroke="#ffffff"/>
<circle cx="511" cy="195.5" r="4.6" stroke="#ffffff"/>
<circle cx="499.5" cy="201.5" r="4.6" stroke="#ffffff"/>
<path d="M489.5 189.3H511A6.2 6.2 0 0 1 513.9 201L502.35 207A6.2 6.2 0 0 1 496.3 206.8L486.3 200.8A6.2 6.2 0 0 1 489.5 189.3Z" stroke="#ffffff" fill="none"/>
<path d="M499.5 197L499.5 210" stroke="#ffff00"/>
<path d="M493 201.5L508 201.5" stroke="#ffff00"/>
<path d="M511.5 187L511.5 200" stroke="#ffff00"/>
<text x="478" y="188.5" font-size="6.5" fill="#00ffff" stroke="#00ffff" stroke-width="0.35" style="font-family:'Liberation Sans',sans-serif" textLength="26" lengthAdjust="spacingAndGlyphs">10000kg</text>
<path d="M430 195.5L525 195.5" stroke="#ffff00"/>
<path d="M489.5 158L489.5 247" stroke="#ffff00" stroke-dasharray="16 2 3 2"/>
<circle cx="453.5" cy="195.5" r="11.3" stroke="#ff0000" stroke-dasharray="3 1"/>
<circle cx="453.5" cy="195.5" r="8" stroke="#ff0000"/>
<circle cx="453.5" cy="195.5" r="6" stroke="#ff0000"/>
<circle cx="453.5" cy="195.5" r="5" stroke="#ffff00"/>
<path d="M468 185.5L460.5 185.5L463 189" stroke="#ff0000" fill="none"/>
<path d="M468 205.5L460.5 205.5L463 201" stroke="#ff0000" fill="none"/>
<path d="M467.5 185L467.5 206" stroke="#ff0000" stroke-dasharray="3 14 3"/>
<path d="M453.5 178L453.5 216" stroke="#ffff00"/>
<path d="M464.5 207L470.5 207L472 212L473 220L476 225.5L474.5 230L473 235L469.5 235L467 231L464 226L466 221L465 214Z" stroke="#ffffff" fill="#ffffff"/>
<path d="M466 203L472.5 237" stroke="#ffff00"/>
<path d="M463 210.5L471 210.5" stroke="#ffff00"/>
<path d="M463 227.5L467 227.5" stroke="#ffff00"/>
<path d="M471.3 235L473.2 252" stroke="#ffffff" stroke-width="3.4"/>
<path d="M471.3 236L473.2 252" stroke="#000" stroke-width="1.2" stroke-dasharray="1.6 1.4"/>
<path d="M471 252.5L475 252.5" stroke="#00ffff"/>
<path d="M512.2 214.5L504 249" stroke="#ffffff" stroke-width="3.2"/>
<path d="M512.2 215.5L504 249" stroke="#000" stroke-width="1.2" stroke-dasharray="1.6 1.4"/>
<path d="M502 249.5L505 249.5" stroke="#00ffff"/>
<path d="M487.5 217L487.5 247" stroke="#00ffff"/>
<path d="M479 244.5L494 244.5" stroke="#00ffff"/>
<rect x="480.5" y="242.5" width="2" height="2" stroke="#00ffff" fill="none"/>
<rect x="340.5" y="273.5" width="10" height="12" stroke="#00ff00" fill="none"/>
<path d="M335 278.5L353 278.5" stroke="#00ff00"/>
<path d="M340 280.5L350 280.5" stroke="#00ff00"/>
<rect x="407.5" y="271.5" width="3" height="3" stroke="#00ff00" fill="none"/>
<rect x="416.5" y="271.5" width="3" height="3" stroke="#00ff00" fill="none"/>
<rect x="426.5" y="271.5" width="3" height="3" stroke="#00ff00" fill="none"/>
<path d="M405 275.5L430 275.5" stroke="#00ff00"/>
<path d="M412 275L413 277" stroke="#00ff00"/>
<path d="M413 277L415 275" stroke="#00ff00"/>
<path d="M422 275L423 277" stroke="#00ff00"/>
<path d="M423 277L425 275" stroke="#00ff00"/>
<path d="M405.4 275.5L362.6 328.6" stroke="#00ff00"/>
<defs><pattern id="hat" width="3" height="3" patternUnits="userSpaceOnUse"><path d="M-1 4L4 -1M-1 1L1 -1M2 4L4 2" stroke="#00ffff" stroke-width="1"/></pattern></defs>
<path d="M334.5 301.5L329.5 302L320 321.5L326 341H357.5V317.5H334.5Z" stroke="#00ffff" fill="url(#hat)"/>
<path d="M334.5 300.8L358.5 294.2" stroke="#00ffff"/>
<rect x="336" y="325" width="22" height="9" fill="#000" stroke="none"/>
<rect x="336.5" y="325.5" width="22" height="8" stroke="#ffffff" fill="none"/>
<rect x="338.5" y="326.5" width="3" height="6" stroke="#ffffff" fill="none"/>
<path d="M344.5 325L344.5 333" stroke="#ffffff"/>
<path d="M359.5 323.5Q364.5 324 364.5 329.5Q364.5 335 359.5 335.5" stroke="#ffffff" fill="#ffffff"/>
<path d="M332 329.5L377 329.5" stroke="#ffff00" stroke-dasharray="10 2 3 2"/>
<path d="M357.5 293.5L359.5 293.5L359.5 344.5L374.5 344.5L374.5 346.5L357.5 346.5Z" stroke="#ffffff" fill="none"/>
<path d="M325.8 341L320.9 353.5L312 353.5" stroke="#00ffff" fill="none"/>
<rect x="312.5" y="351.5" width="8" height="2" stroke="#00ffff" fill="none"/>
<path d="M366.6 346.5L370.6 357.8L373 357.8" stroke="#00ffff" fill="none"/>
<rect x="373.5" y="355.5" width="15" height="3" stroke="#00ffff" fill="none"/>
<rect x="578.5" y="196.5" width="40" height="4" stroke="#00ffff" fill="none"/>
<path d="M573.5 204L573.5 347" stroke="#00ffff"/>
<path d="M628.5 204L628.5 347" stroke="#00ffff"/>
<path d="M649.5 204L649.5 347" stroke="#00ffff"/>
<path d="M573 204.5L709 204.5" stroke="#00ffff"/>
<path d="M573 211.5L709 211.5" stroke="#00ffff"/>
<path d="M573 218.5L709 218.5" stroke="#00ffff"/>
<path d="M573 224.5L709 224.5" stroke="#00ffff"/>
<path d="M573 231.5L709 231.5" stroke="#00ffff"/>
<path d="M573 238.5L709 238.5" stroke="#00ffff"/>
<path d="M573 245.5L709 245.5" stroke="#00ffff"/>
<path d="M573 251.5L709 251.5" stroke="#00ffff"/>
<path d="M573 265.5L709 265.5" stroke="#00ffff"/>
<path d="M573 272.5L709 272.5" stroke="#00ffff"/>
<path d="M573 278.5L709 278.5" stroke="#00ffff"/>
<path d="M573 285.5L709 285.5" stroke="#00ffff"/>
<path d="M573 299.5L709 299.5" stroke="#00ffff"/>
<path d="M573 306.5L709 306.5" stroke="#00ffff"/>
<path d="M573 312.5L709 312.5" stroke="#00ffff"/>
<path d="M573 326.5L709 326.5" stroke="#00ffff"/>
<path d="M573 333.5L709 333.5" stroke="#00ffff"/>
<path d="M573 346.5L709 346.5" stroke="#00ffff"/>
<path d="M611 258.5L709 258.5" stroke="#00ffff"/>
<path d="M611 292.5L709 292.5" stroke="#00ffff"/>
<path d="M611 319.5L709 319.5" stroke="#00ffff"/>
<path d="M628 339.5L709 339.5" stroke="#00ffff"/>
<path d="M611.5 251L611.5 265" stroke="#00ffff"/>
<path d="M611.5 285L611.5 299" stroke="#00ffff"/>
<path d="M611.5 312L611.5 326" stroke="#00ffff"/>
<rect x="577.5" y="205.5" width="33" height="4" stroke="#00ffff" fill="none"/>
<rect x="577.5" y="212.5" width="33" height="4" stroke="#00ffff" fill="none"/>
<path d="M577 215.5L610 215.5" stroke="#00ffff"/>
<rect x="577.5" y="219.5" width="33" height="3" stroke="#00ffff" fill="none"/>
<rect x="577.5" y="225.5" width="33" height="4" stroke="#00ffff" fill="none"/>
<rect x="577.5" y="232.5" width="9" height="4" stroke="#00ffff" fill="none"/>
<rect x="577.5" y="239.5" width="33" height="4" stroke="#00ffff" fill="none"/>
<path d="M577 242.5L610 242.5" stroke="#00ffff"/>
<rect x="577.5" y="246.5" width="33" height="3" stroke="#00ffff" fill="none"/>
<rect x="577.5" y="266.5" width="38" height="4" stroke="#00ffff" fill="none"/>
<path d="M577 269.5L615 269.5" stroke="#00ffff"/>
<rect x="577.5" y="273.5" width="33" height="3" stroke="#00ffff" fill="none"/>
<rect x="577.5" y="279.5" width="36" height="4" stroke="#00ffff" fill="none"/>
<rect x="577.5" y="300.5" width="29" height="4" stroke="#00ffff" fill="none"/>
<rect x="577.5" y="307.5" width="38" height="3" stroke="#00ffff" fill="none"/>
<rect x="577.5" y="327.5" width="33" height="4" stroke="#00ffff" fill="none"/>
<rect x="577.5" y="255.5" width="29" height="6" stroke="#00ffff" fill="none"/>
<rect x="577.5" y="289.5" width="29" height="6" stroke="#00ffff" fill="none"/>
<rect x="577.5" y="316.5" width="33" height="6" stroke="#00ffff" fill="none"/>
<rect x="577.5" y="337.5" width="33" height="4" stroke="#00ffff" fill="none"/>
<rect x="618.5" y="338.5" width="6" height="4" stroke="#00ffff" fill="none"/>
<rect x="613.5" y="252.5" width="11" height="4" stroke="#00ffff" fill="none"/>
<rect x="613.5" y="259.5" width="11" height="4" stroke="#00ffff" fill="none"/>
<rect x="613.5" y="286.5" width="11" height="4" stroke="#00ffff" fill="none"/>
<rect x="613.5" y="293.5" width="11" height="4" stroke="#00ffff" fill="none"/>
<rect x="613.5" y="313.5" width="11" height="4" stroke="#00ffff" fill="none"/>
<rect x="613.5" y="320.5" width="13" height="4" stroke="#00ffff" fill="none"/>
<rect x="636.5" y="205.5" width="5" height="4" stroke="#00ffff" fill="none"/>
<rect x="637.5" y="214.5" width="3" height="1" stroke="#00ffff" fill="none"/>
<rect x="633.5" y="219.5" width="11" height="3" stroke="#00ffff" fill="none"/>
<rect x="633.5" y="225.5" width="11" height="4" stroke="#00ffff" fill="none"/>
<rect x="637.5" y="232.5" width="2" height="3" stroke="#00ffff" fill="none"/>
<rect x="634.5" y="246.5" width="10" height="3" stroke="#00ffff" fill="none"/>
<rect x="636.5" y="252.5" width="5" height="4" stroke="#00ffff" fill="none"/>
<rect x="633.5" y="259.5" width="11" height="4" stroke="#00ffff" fill="none"/>
<rect x="636.5" y="275.5" width="5" height="1" stroke="#00ffff" fill="none"/>
<rect x="636.5" y="286.5" width="5" height="3" stroke="#00ffff" fill="none"/>
<rect x="633.5" y="293.5" width="11" height="4" stroke="#00ffff" fill="none"/>
<rect x="636.5" y="302.5" width="5" height="2" stroke="#00ffff" fill="none"/>
<rect x="636.5" y="307.5" width="5" height="3" stroke="#00ffff" fill="none"/>
<rect x="637.5" y="322.5" width="3" height="2" stroke="#00ffff" fill="none"/>
<rect x="636.5" y="328.5" width="5" height="3" stroke="#00ffff" fill="none"/>
<rect x="635.5" y="335.5" width="6" height="2" stroke="#00ffff" fill="none"/>
<rect x="635.5" y="341.5" width="6" height="3" stroke="#00ffff" fill="none"/>
<path d="M638.5 266L638.5 270" stroke="#00ffff" stroke-width="2"/>
<rect x="682.5" y="206.5" width="12" height="3" stroke="#00ffff" fill="none"/>
<rect x="685.5" y="214.5" width="4" height="2" stroke="#00ffff" fill="none"/>
<rect x="682.5" y="220.5" width="12" height="3" stroke="#00ffff" fill="none"/>
<rect x="685.5" y="226.5" width="5" height="4" stroke="#00ffff" fill="none"/>
<rect x="685.5" y="241.5" width="5" height="2" stroke="#00ffff" fill="none"/>
<rect x="685.5" y="247.5" width="6" height="3" stroke="#00ffff" fill="none"/>
<rect x="686.5" y="253.5" width="4" height="3" stroke="#00ffff" fill="none"/>
<rect x="683.5" y="260.5" width="9" height="3" stroke="#00ffff" fill="none"/>
<rect x="682.5" y="267.5" width="12" height="3" stroke="#00ffff" fill="none"/>
<rect x="684.5" y="274.5" width="7" height="3" stroke="#00ffff" fill="none"/>
<rect x="684.5" y="287.5" width="7" height="3" stroke="#00ffff" fill="none"/>
<rect x="683.5" y="294.5" width="9" height="4" stroke="#00ffff" fill="none"/>
<rect x="685.5" y="301.5" width="6" height="4" stroke="#00ffff" fill="none"/>
<rect x="683.5" y="308.5" width="9" height="2" stroke="#00ffff" fill="none"/>
<rect x="685.5" y="321.5" width="7" height="3" stroke="#00ffff" fill="none"/>
<rect x="681.5" y="328.5" width="15" height="4" stroke="#00ffff" fill="none"/>
<rect x="684.5" y="335.5" width="10" height="2" stroke="#00ffff" fill="none"/>
<rect x="663.5" y="233.5" width="49" height="4" stroke="#00ffff" fill="none"/>
<rect x="663.5" y="280.5" width="49" height="4" stroke="#00ffff" fill="none"/>
<rect x="661.5" y="314.5" width="51" height="3" stroke="#00ffff" fill="none"/>
<rect x="575.5" y="350.5" width="7" height="4" stroke="#00ffff" fill="none"/>
<rect x="575.5" y="356.5" width="101" height="4" stroke="#00ffff" fill="none"/>
<rect x="575.5" y="364.5" width="54" height="5" stroke="#00ffff" fill="none"/>
<path d="M574.5 378L574.5 490" stroke="#00ffff"/>
<path d="M584.5 378L584.5 490" stroke="#00ffff"/>
<path d="M610.5 378L610.5 490" stroke="#00ffff"/>
<path d="M651.5 378L651.5 490" stroke="#00ffff"/>
<path d="M660.5 378L660.5 490" stroke="#00ffff"/>
<path d="M682.5 378L682.5 490" stroke="#00ffff"/>
<path d="M696.5 378L696.5 490" stroke="#00ffff"/>
<path d="M573.5 430L573.5 516" stroke="#00ffff"/>
<path d="M574 378.5L709 378.5" stroke="#00ffff"/>
<path d="M574 385.5L709 385.5" stroke="#00ffff"/>
<path d="M574 391.5L709 391.5" stroke="#00ffff"/>
<path d="M574 398.5L709 398.5" stroke="#00ffff"/>
<path d="M574 405.5L709 405.5" stroke="#00ffff"/>
<path d="M574 412.5L709 412.5" stroke="#00ffff"/>
<path d="M574 420.5L709 420.5" stroke="#00ffff"/>
<path d="M574 427.5L709 427.5" stroke="#00ffff"/>
<path d="M573 434.5L709 434.5" stroke="#00ffff"/>
<path d="M584 441.5L709 441.5" stroke="#00ffff"/>
<path d="M573 448.5L709 448.5" stroke="#00ffff"/>
<path d="M573 455.5L709 455.5" stroke="#00ffff"/>
<path d="M573 462.5L709 462.5" stroke="#00ffff"/>
<path d="M573 469.5L709 469.5" stroke="#00ffff"/>
<path d="M573 476.5L709 476.5" stroke="#00ffff"/>
<path d="M573 483.5L709 483.5" stroke="#00ffff"/>
<path d="M573 490.5L709 490.5" stroke="#00ffff"/>
<rect x="576.5" y="380.5" width="3" height="3" stroke="#00ffff" fill="none"/>
<rect x="588.5" y="380.5" width="11" height="3" stroke="#00ffff" fill="none"/>
<rect x="612.5" y="380.5" width="13" height="3" stroke="#00ffff" fill="none"/>
<path d="M612 381.5L625 381.5" stroke="#00ffff"/>
<rect x="656" y="380" width="2" height="4" fill="#00ffff" stroke="none"/>
<rect x="662.5" y="380.5" width="6" height="3" stroke="#00ffff" fill="none"/>
<rect x="685.5" y="380.5" width="7" height="3" stroke="#00ffff" fill="none"/>
<rect x="698.5" y="380.5" width="8" height="3" stroke="#00ffff" fill="none"/>
<rect x="576.5" y="387.5" width="2" height="2" stroke="#00ffff" fill="none"/>
<rect x="588.5" y="387.5" width="15" height="2" stroke="#00ffff" fill="none"/>
<rect x="612.5" y="387.5" width="19" height="2" stroke="#00ffff" fill="none"/>
<rect x="656" y="387" width="2" height="3" fill="#00ffff" stroke="none"/>
<rect x="662.5" y="387.5" width="5" height="2" stroke="#00ffff" fill="none"/>
<rect x="685.5" y="387.5" width="9" height="2" stroke="#00ffff" fill="none"/>
<rect x="698.5" y="387.5" width="8" height="2" stroke="#00ffff" fill="none"/>
<rect x="576.5" y="393.5" width="3" height="3" stroke="#00ffff" fill="none"/>
<rect x="588.5" y="393.5" width="13" height="3" stroke="#00ffff" fill="none"/>
<rect x="612.5" y="393.5" width="12" height="3" stroke="#00ffff" fill="none"/>
<rect x="656" y="393" width="2" height="4" fill="#00ffff" stroke="none"/>
<rect x="662.5" y="393.5" width="7" height="3" stroke="#00ffff" fill="none"/>
<rect x="685.5" y="393.5" width="9" height="3" stroke="#00ffff" fill="none"/>
<rect x="698.5" y="393.5" width="8" height="3" stroke="#00ffff" fill="none"/>
<rect x="576.5" y="400.5" width="2" height="3" stroke="#00ffff" fill="none"/>
<rect x="588.5" y="400.5" width="13" height="3" stroke="#00ffff" fill="none"/>
<rect x="612.5" y="400.5" width="12" height="3" stroke="#00ffff" fill="none"/>
<rect x="656" y="400" width="2" height="4" fill="#00ffff" stroke="none"/>
<rect x="662.5" y="400.5" width="10" height="3" stroke="#00ffff" fill="none"/>
<rect x="684.5" y="400.5" width="9" height="3" stroke="#00ffff" fill="none"/>
<rect x="697.5" y="400.5" width="15" height="3" stroke="#00ffff" fill="none"/>
<rect x="576.5" y="407.5" width="3" height="3" stroke="#00ffff" fill="none"/>
<rect x="588.5" y="407.5" width="13" height="3" stroke="#00ffff" fill="none"/>
<rect x="612.5" y="407.5" width="19" height="3" stroke="#00ffff" fill="none"/>
<rect x="656" y="407" width="2" height="4" fill="#00ffff" stroke="none"/>
<rect x="662.5" y="407.5" width="10" height="3" stroke="#00ffff" fill="none"/>
<rect x="685.5" y="407.5" width="9" height="3" stroke="#00ffff" fill="none"/>
<rect x="698.5" y="407.5" width="8" height="3" stroke="#00ffff" fill="none"/>
<rect x="576" y="414" width="2" height="5" fill="#00ffff" stroke="none"/>
<rect x="588.5" y="414.5" width="13" height="4" stroke="#00ffff" fill="none"/>
<rect x="612.5" y="414.5" width="14" height="4" stroke="#00ffff" fill="none"/>
<rect x="656" y="414" width="2" height="5" fill="#00ffff" stroke="none"/>
<rect x="662.5" y="414.5" width="5" height="4" stroke="#00ffff" fill="none"/>
<rect x="685.5" y="414.5" width="9" height="4" stroke="#00ffff" fill="none"/>
<rect x="697.5" y="414.5" width="15" height="4" stroke="#00ffff" fill="none"/>
<rect x="576" y="422" width="2" height="4" fill="#00ffff" stroke="none"/>
<rect x="588.5" y="422.5" width="5" height="3" stroke="#00ffff" fill="none"/>
<rect x="612.5" y="422.5" width="6" height="3" stroke="#00ffff" fill="none"/>
<rect x="612" y="422" width="6" height="3" fill="#00ffff" stroke="none"/>
<rect x="614" y="424" width="3" height="0" fill="#000" stroke="none"/>
<rect x="656" y="422" width="2" height="4" fill="#00ffff" stroke="none"/>
<rect x="661.5" y="422.5" width="19" height="3" stroke="#00ffff" fill="none"/>
<rect x="697.5" y="422.5" width="15" height="3" stroke="#00ffff" fill="none"/>
<rect x="576" y="429" width="2" height="4" fill="#00ffff" stroke="none"/>
<rect x="588.5" y="429.5" width="10" height="3" stroke="#00ffff" fill="none"/>
<rect x="612.5" y="429.5" width="12" height="3" stroke="#00ffff" fill="none"/>
<rect x="656" y="429" width="2" height="4" fill="#00ffff" stroke="none"/>
<rect x="697.5" y="429.5" width="9" height="3" stroke="#00ffff" fill="none"/>
<rect x="576.5" y="450.5" width="2" height="3" stroke="#00ffff" fill="none"/>
<rect x="588.5" y="450.5" width="10" height="3" stroke="#00ffff" fill="none"/>
<rect x="612.5" y="450.5" width="17" height="3" stroke="#00ffff" fill="none"/>
<rect x="656" y="450" width="2" height="4" fill="#00ffff" stroke="none"/>
<rect x="698.5" y="450.5" width="14" height="3" stroke="#00ffff" fill="none"/>
<rect x="576.5" y="457.5" width="2" height="3" stroke="#00ffff" fill="none"/>
<rect x="588.5" y="457.5" width="10" height="3" stroke="#00ffff" fill="none"/>
<rect x="612.5" y="457.5" width="12" height="3" stroke="#00ffff" fill="none"/>
<rect x="656" y="457" width="2" height="4" fill="#00ffff" stroke="none"/>
<rect x="698.5" y="457.5" width="8" height="3" stroke="#00ffff" fill="none"/>
<rect x="576.5" y="464.5" width="2" height="3" stroke="#00ffff" fill="none"/>
<rect x="588.5" y="464.5" width="10" height="3" stroke="#00ffff" fill="none"/>
<rect x="612.5" y="464.5" width="13" height="3" stroke="#00ffff" fill="none"/>
<rect x="656" y="464" width="2" height="4" fill="#00ffff" stroke="none"/>
<rect x="684.5" y="464.5" width="10" height="3" stroke="#00ffff" fill="none"/>
<rect x="698.5" y="464.5" width="7" height="3" stroke="#00ffff" fill="none"/>
<rect x="576.5" y="471.5" width="2" height="3" stroke="#00ffff" fill="none"/>
<rect x="588.5" y="471.5" width="10" height="3" stroke="#00ffff" fill="none"/>
<rect x="612.5" y="471.5" width="13" height="3" stroke="#00ffff" fill="none"/>
<rect x="656" y="471" width="2" height="4" fill="#00ffff" stroke="none"/>
<rect x="698.5" y="471.5" width="14" height="3" stroke="#00ffff" fill="none"/>
<path d="M698 472.5L712 472.5" stroke="#00ffff"/>
<rect x="576" y="478" width="2" height="4" fill="#00ffff" stroke="none"/>
<rect x="588.5" y="478.5" width="9" height="3" stroke="#00ffff" fill="none"/>
<rect x="612.5" y="478.5" width="9" height="3" stroke="#00ffff" fill="none"/>
<rect x="656" y="478" width="2" height="4" fill="#00ffff" stroke="none"/>
<rect x="697.5" y="478.5" width="15" height="3" stroke="#00ffff" fill="none"/>
<rect x="575.5" y="440.5" width="2" height="4" stroke="#00ffff" fill="none"/>
<rect x="588.5" y="443.5" width="13" height="3" stroke="#00ffff" fill="none"/>
<rect x="612.5" y="442.5" width="36" height="4" stroke="#00ffff" fill="none"/>
<rect x="654" y="442" width="2" height="6" fill="#00ffff" stroke="none"/>
<rect x="701.5" y="443.5" width="5" height="2" stroke="#00ffff" fill="none"/>
<rect x="575.5" y="484.5" width="5" height="4" stroke="#00ffff" fill="none"/>
<rect x="589.5" y="484.5" width="13" height="4" stroke="#00ffff" fill="none"/>
<rect x="615.5" y="484.5" width="17" height="4" stroke="#00ffff" fill="none"/>
<rect x="651.5" y="483.5" width="6" height="6" stroke="#00ffff" fill="none"/>
<rect x="666.5" y="484.5" width="10" height="4" stroke="#00ffff" fill="none"/>
<rect x="685.5" y="483.5" width="5" height="3" stroke="#00ffff" fill="none"/>
<rect x="698.5" y="483.5" width="6" height="3" stroke="#00ffff" fill="none"/>
<path d="M682 487.5L709 487.5" stroke="#00ffff"/>
<path d="M687 489.5L695 489.5" stroke="#00ffff"/>
<path d="M698 489.5L709 489.5" stroke="#00ffff"/>
<path d="M573 490.5L709 490.5" stroke="#00ffff"/>
<path d="M573 489.5L625 489.5" stroke="#00ffff"/>
<path d="M586.5 490L586.5 515" stroke="#00ffff"/>
<path d="M624.5 490L624.5 515" stroke="#00ffff"/>
<path d="M625.5 490L625.5 515" stroke="#00ffff"/>
<path d="M675.5 490L675.5 515" stroke="#00ffff"/>
<rect x="632.5" y="493.5" width="35" height="4" stroke="#00ffff" fill="none"/>
<rect x="644.5" y="501.5" width="9" height="4" stroke="#00ffff" fill="none"/>
<path d="M625 510.5L675 510.5" stroke="#00ffff"/>
<rect x="642.5" y="511.5" width="12" height="4" stroke="#00ffff" fill="none"/>
<path d="M573 494.5L624 494.5" stroke="#00ffff"/>
<path d="M573 498.5L624 498.5" stroke="#00ffff"/>
<path d="M580.5 490L580.5 494" stroke="#00ffff"/>
<path d="M603.5 490L603.5 494" stroke="#00ffff"/>
<path d="M616.5 490L616.5 494" stroke="#00ffff"/>
<path d="M579.5 494L579.5 499" stroke="#00ffff"/>
<path d="M590.5 494L590.5 499" stroke="#00ffff"/>
<path d="M596.5 494L596.5 499" stroke="#00ffff"/>
<path d="M603.5 494L603.5 499" stroke="#00ffff"/>
<path d="M607.5 494L607.5 499" stroke="#00ffff"/>
<path d="M612.5 494L612.5 499" stroke="#00ffff"/>
<path d="M616.5 494L616.5 499" stroke="#00ffff"/>
<path d="M621.5 494L621.5 499" stroke="#00ffff"/>
<rect x="575" y="495" width="3" height="2" fill="#000" stroke="none"/>
<rect x="581" y="495" width="3" height="2" fill="#000" stroke="none"/>
<rect x="587" y="495" width="2" height="2" fill="#000" stroke="none"/>
<rect x="591" y="495" width="4" height="2" fill="#000" stroke="none"/>
<rect x="597" y="495" width="5" height="2" fill="#000" stroke="none"/>
<rect x="604" y="495" width="2" height="2" fill="#000" stroke="none"/>
<rect x="608" y="495" width="3" height="2" fill="#000" stroke="none"/>
<rect x="613" y="495" width="2" height="2" fill="#000" stroke="none"/>
<rect x="617" y="495" width="3" height="2" fill="#000" stroke="none"/>
<rect x="622" y="495" width="1" height="2" fill="#000" stroke="none"/>
<path d="M573 495.5L624 495.5" stroke="#00ffff"/>
<path d="M573 496.5L624 496.5" stroke="#00ffff"/>
<rect x="576" y="495" width="2" height="2" fill="#000" stroke="none"/>
<rect x="582" y="495" width="2" height="2" fill="#000" stroke="none"/>
<rect x="588" y="495" width="2" height="2" fill="#000" stroke="none"/>
<rect x="593" y="495" width="3" height="2" fill="#000" stroke="none"/>
<rect x="599" y="495" width="4" height="2" fill="#000" stroke="none"/>
<rect x="605" y="495" width="1" height="2" fill="#000" stroke="none"/>
<rect x="609" y="495" width="2" height="2" fill="#000" stroke="none"/>
<rect x="614" y="495" width="2" height="2" fill="#000" stroke="none"/>
<rect x="619" y="495" width="2" height="2" fill="#000" stroke="none"/>
<path d="M582.5 499L582.5 515" stroke="#00ffff"/>
<path d="M599.5 499L599.5 515" stroke="#00ffff"/>
<path d="M608.5 499L608.5 515" stroke="#00ffff"/>
<path d="M612.5 499L612.5 515" stroke="#00ffff"/>
<path d="M583 503.5L599 503.5" stroke="#00ffff"/>
<path d="M608 503.5L624 503.5" stroke="#00ffff"/>
<path d="M583 507.5L599 507.5" stroke="#00ffff"/>
<path d="M608 507.5L624 507.5" stroke="#00ffff"/>
<path d="M583 511.5L599 511.5" stroke="#00ffff"/>
<path d="M608 511.5L624 511.5" stroke="#00ffff"/>
<rect x="575" y="500" width="7" height="2" fill="#00ffff" stroke="none"/>
<rect x="600" y="500" width="8" height="2" fill="#00ffff" stroke="none"/>
<rect x="575" y="504" width="7" height="2" fill="#00ffff" stroke="none"/>
<rect x="600" y="504" width="8" height="2" fill="#00ffff" stroke="none"/>
<rect x="575" y="508" width="7" height="2" fill="#00ffff" stroke="none"/>
<rect x="600" y="508" width="8" height="2" fill="#00ffff" stroke="none"/>
<rect x="575" y="512" width="7" height="2" fill="#00ffff" stroke="none"/>
<rect x="600" y="512" width="8" height="2" fill="#00ffff" stroke="none"/>
<rect x="695.5" y="492.5" width="11" height="3" stroke="#00ffff" fill="none"/>
<path d="M675 497.5L709 497.5" stroke="#00ffff"/>
<path d="M675 498.5L709 498.5" stroke="#00ffff"/>
<rect x="678" y="498" width="2" height="1" fill="#000" stroke="none"/>
<rect x="690" y="498" width="2" height="1" fill="#000" stroke="none"/>
<rect x="704" y="498" width="2" height="1" fill="#000" stroke="none"/>
<path d="M675 499.5L709 499.5" stroke="#00ffff"/>
<path d="M677.5 499L677.5 507" stroke="#00ffff"/>
<path d="M681.5 499L681.5 507" stroke="#00ffff"/>
<path d="M687.5 499L687.5 507" stroke="#00ffff"/>
<path d="M693.5 499L693.5 507" stroke="#00ffff"/>
<path d="M700.5 499L700.5 507" stroke="#00ffff"/>
<path d="M703.5 499L703.5 507" stroke="#00ffff"/>
<path d="M675 507.5L709 507.5" stroke="#00ffff"/>
<path d="M675 508.5L709 508.5" stroke="#00ffff"/>
<rect x="703.5" y="502.5" width="5" height="3" stroke="#00ffff" fill="none"/>
<rect x="441.5" y="402.5" width="31" height="5" stroke="#00ffff" fill="none"/>
<rect x="441.5" y="410.5" width="48" height="34" stroke="#00ffff" fill="none"/>
<path d="M474.5 410L474.5 444" stroke="#00ffff"/>
<path d="M441 431.5L489 431.5" stroke="#00ffff"/>
<path d="M441 437.5L489 437.5" stroke="#00ffff"/>
<path d="M461.5 431L461.5 444" stroke="#00ffff"/>
<path d="M442 411L473.5 431" stroke="#00ffff"/>
<rect x="453.5" y="413.5" width="19" height="4" stroke="#00ffff" fill="none"/>
<rect x="442.5" y="423.5" width="10" height="5" stroke="#00ffff" fill="none"/>
<rect x="482.5" y="418.5" width="5" height="3" stroke="#00ffff" fill="none"/>
<rect x="443.5" y="432.5" width="18" height="4" stroke="#00ffff" fill="none"/>
<path d="M443 435.5L461 435.5" stroke="#00ffff"/>
<rect x="443.5" y="438.5" width="18" height="4" stroke="#00ffff" fill="none"/>
<path d="M474 432.5L489 432.5" stroke="#00ffff"/>
<rect x="477.5" y="433.5" width="12" height="2" stroke="#00ffff" fill="none"/>
<rect x="477.5" y="439.5" width="12" height="3" stroke="#00ffff" fill="none"/>
<rect x="428.5" y="465.5" width="9" height="5" stroke="#00ffff" fill="none"/>
<rect x="428.5" y="473.5" width="42" height="41" stroke="#00ffff" fill="none"/>
<path d="M445.5 473L445.5 514" stroke="#00ffff"/>
<path d="M428 493.5L470 493.5" stroke="#00ffff"/>
<path d="M428 500.5L470 500.5" stroke="#00ffff"/>
<path d="M428 507.5L470 507.5" stroke="#00ffff"/>
<path d="M429 474L445 493" stroke="#00ffff"/>
<rect x="434.5" y="476.5" width="9" height="4" stroke="#00ffff" fill="none"/>
<rect x="430.5" y="486.5" width="9" height="4" stroke="#00ffff" fill="none"/>
<rect x="445.5" y="478.5" width="25" height="4" stroke="#00ffff" fill="none"/>
<rect x="447" y="479" width="4" height="3" fill="#000" stroke="none"/>
<rect x="447.5" y="478.5" width="4" height="4" stroke="#00ffff" fill="none"/>
<path d="M453.5 478L453.5 482" stroke="#00ffff"/>
<rect x="446.5" y="495.5" width="23" height="4" stroke="#00ffff" fill="none"/>
<path d="M446 496.5L469 496.5" stroke="#00ffff"/>
<path d="M446 498.5L469 498.5" stroke="#00ffff"/>
<rect x="434.5" y="495.5" width="2" height="3" stroke="#00ffff" fill="none"/>
<rect x="434.5" y="502.5" width="4" height="3" stroke="#00ffff" fill="none"/>
<rect x="434.5" y="508.5" width="4" height="4" stroke="#00ffff" fill="none"/>
<rect x="451.5" y="502.5" width="10" height="3" stroke="#00ffff" fill="none"/>
<rect x="451.5" y="508.5" width="10" height="4" stroke="#00ffff" fill="none"/>
</svg>
</body></html>
